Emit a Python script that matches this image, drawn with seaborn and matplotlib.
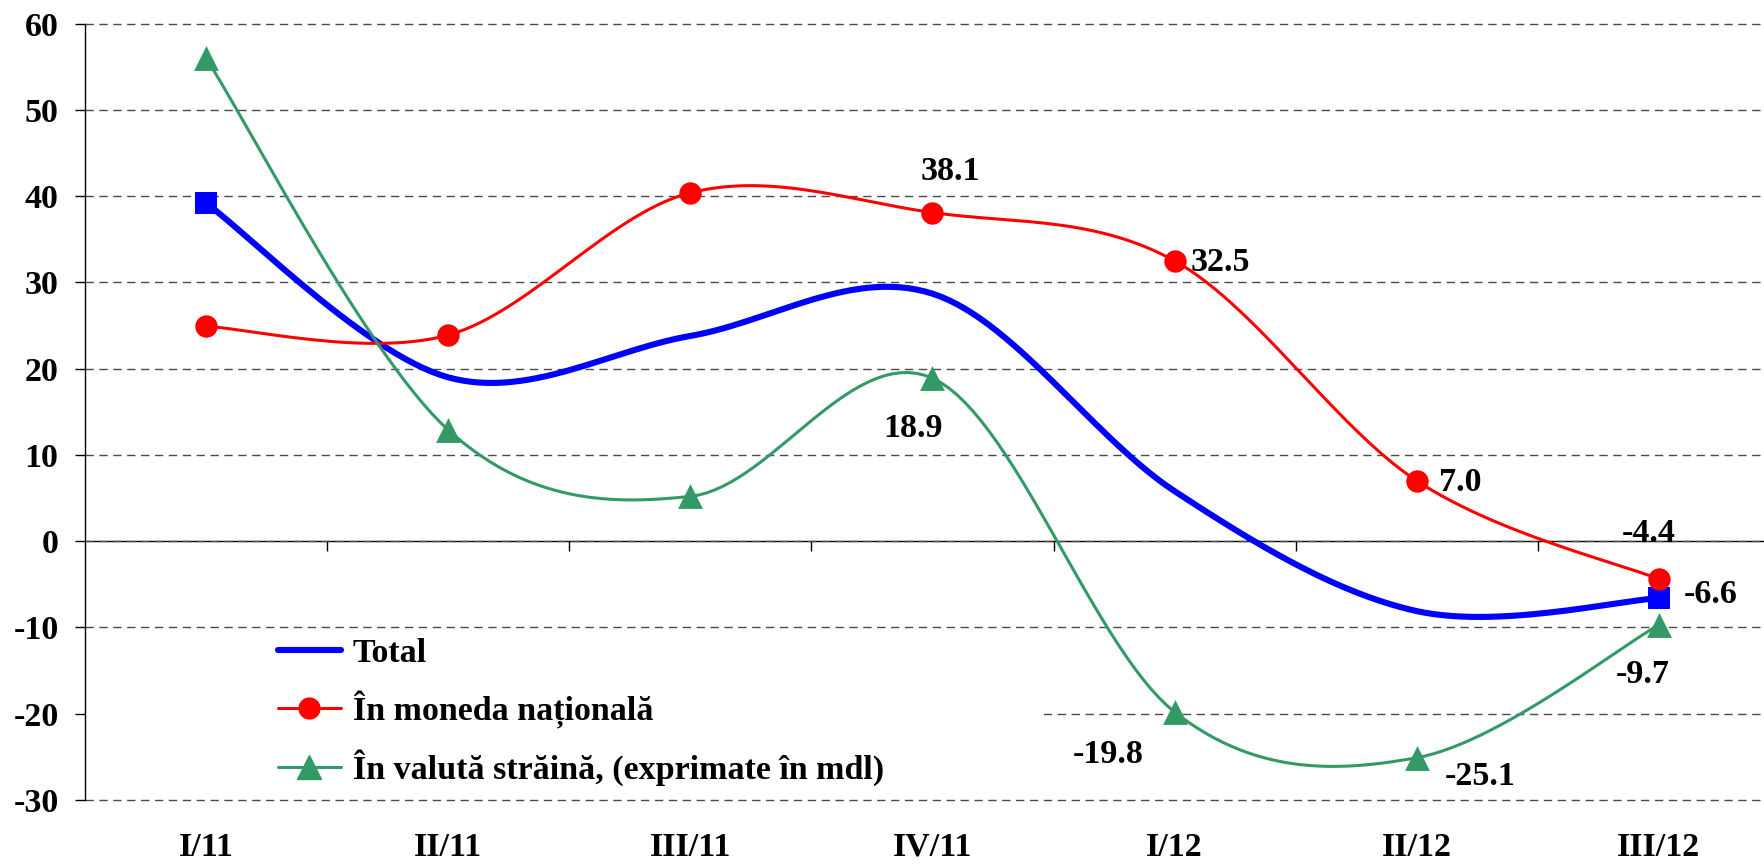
import numpy as np
import pandas as pd
import seaborn as sns
import matplotlib.pyplot as plt
from matplotlib.lines import Line2D

quarters = ["I/11", "II/11", "III/11", "IV/11", "I/12", "II/12", "III/12"]
total = [39.2, 19.0, 23.8, 28.7, 5.8, -8.1, -6.6]
national = [24.9, 23.9, 40.4, 38.1, 32.5, 7.0, -4.4]
foreign = [56.0, 12.9, 5.2, 18.9, -19.8, -25.1, -9.7]

series_names = ["Total", "În moneda națională", "În valută străină, (exprimate în mdl)"]


def smooth(values, n=30):
    # catmull-rom spline, like the "smoothed line" option in excel
    pts = np.column_stack([np.arange(len(values)), values]).astype(float)
    ext = np.vstack([pts[0], pts, pts[-1]])
    out = []
    for i in range(len(pts) - 1):
        p0, p1, p2, p3 = ext[i], ext[i + 1], ext[i + 2], ext[i + 3]
        m1 = (p2 - p0) / 2
        m2 = (p3 - p1) / 2
        t = np.linspace(0, 1, n, endpoint=(i == len(pts) - 2))[:, None]
        h00 = 2 * t**3 - 3 * t**2 + 1
        h10 = t**3 - 2 * t**2 + t
        h01 = -2 * t**3 + 3 * t**2
        h11 = t**3 - t**2
        out.append(h00 * p1 + h10 * m1 + h01 * p2 + h11 * m2)
    out = np.vstack(out)
    return pd.DataFrame({"x": out[:, 0], "y": out[:, 1]})


sns.set_style("white")
plt.rcParams["font.family"] = ["Liberation Serif", "DejaVu Serif"]
plt.rcParams["font.weight"] = "bold"
plt.rcParams["axes.unicode_minus"] = False
plt.rcParams["text.color"] = "black"
plt.rcParams["xtick.color"] = "black"
plt.rcParams["ytick.color"] = "black"
plt.rcParams["xtick.bottom"] = True
plt.rcParams["ytick.left"] = True

fig = plt.figure(figsize=(17.65, 8.67), dpi=100)
ax = fig.add_axes([85 / 1765, 67 / 867, 1695 / 1765, 776.3 / 867])

blue, red, green = "#0000FF", "#FF0000", "#339966"

# smoothed lines
sns.lineplot(data=smooth(total), x="x", y="y", sort=False, color=blue, lw=4.4, ax=ax, zorder=3)
sns.lineplot(data=smooth(national), x="x", y="y", sort=False, color=red, lw=2.2, ax=ax, zorder=4)
sns.lineplot(data=smooth(foreign), x="x", y="y", sort=False, color=green, lw=2.2, ax=ax, zorder=5)

# markers
idx = np.arange(len(quarters))
sns.scatterplot(x=[idx[0], idx[-1]], y=[total[0], total[-1]], marker="s", s=240,
                color=blue, edgecolor=blue, linewidth=0, ax=ax, zorder=6)
sns.scatterplot(x=idx, y=national, marker="o", s=260, color=red, edgecolor=red,
                linewidth=0, ax=ax, zorder=7)
sns.scatterplot(x=idx, y=foreign, marker="^", s=320, color=green, edgecolor=green,
                linewidth=0, ax=ax, zorder=8)

# data labels (offsets in pixels: dx, dy downwards)
label_style = dict(fontsize=24.5, fontweight="bold", ha="center", va="center", zorder=10)
labels = [
    (3, national[3], (18, -41)),
    (4, national[4], (46, 2)),
    (5, national[5], (43, 2)),
    (6, national[6], (-10, -46)),
    (6, total[6], (52, -4)),
    (3, foreign[3], (-19, 50)),
    (4, foreign[4], (-66, 42)),
    (5, foreign[5], (63, 19)),
    (6, foreign[6], (-16, 50)),
]
for x, y, (dx, dy) in labels:
    ax.annotate(f"{y:.1f}", (x, y), xytext=(dx * 0.72, -dy * 0.72),
                textcoords="offset points", **label_style)

ax.set_xlim(-0.5, 6.5)
ax.set_ylim(-30, 60)
ax.set_yticks(range(-30, 61, 10))
ax.yaxis.grid(True, linestyle=(0, (6, 4)), color="#4a4a4a", lw=1.0)
for gl in ax.get_ygridlines():
    gl.set_clip_on(False)
ax.set_axisbelow(True)
# legend background hides part of the -20 gridline
ax.axhspan(-21, -19, xmin=0, xmax=(1043 - 85) / 1695, color="white", lw=0, zorder=1)

for side in ["top", "right", "bottom"]:
    ax.spines[side].set_visible(False)
ax.spines["left"].set_color("black")
ax.spines["left"].set_linewidth(1.0)

ax.set_xticks(idx)
ax.set_xticklabels(quarters)
ax.tick_params(axis="x", length=0, pad=23, labelsize=24.5)
ax.tick_params(axis="y", length=7, width=1, direction="out", pad=12, labelsize=24.5)
ax.set_xlabel("")
ax.set_ylabel("")

# horizontal axis line at zero with ticks between the categories
zero_ax = ax.secondary_xaxis(1 / 3)
zero_ax.set_xticks(idx[:-1] + 0.5)
zero_ax.set_xticklabels([])
zero_ax.tick_params(axis="x", which="major", length=7, width=1, direction="out",
                    color="black", bottom=True, top=False)
zero_ax.spines["bottom"].set_visible(True)
zero_ax.spines["top"].set_visible(False)
zero_ax.spines["bottom"].set_color("black")
zero_ax.spines["bottom"].set_linewidth(1.0)

handles = [
    Line2D([], [], color=blue, lw=4.4),
    Line2D([], [], color=red, lw=2.2, marker="o", markersize=15),
    Line2D([], [], color=green, lw=2.2, marker="^", markersize=17),
]
ax.legend(handles, series_names, loc="upper left",
          bbox_to_anchor=((278 - 85) / 1695, (800 - 638) / 776.3),
          frameon=False, fontsize=24.5, handlelength=1.85, handletextpad=0.35,
          labelspacing=0.62, borderpad=0, borderaxespad=0)

fig.savefig("out.png", dpi=100)
